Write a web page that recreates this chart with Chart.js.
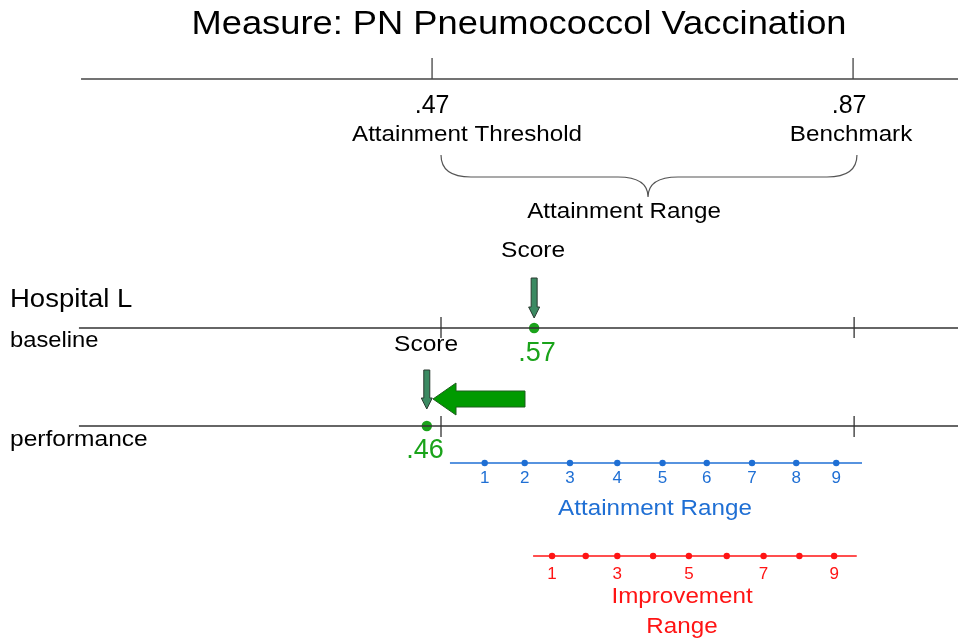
<!DOCTYPE html>
<html>
<head>
<meta charset="utf-8">
<title>Measure: PN Pneumococcol Vaccination</title>
<script src="https://cdn.jsdelivr.net/npm/chart.js@4.4.1/dist/chart.umd.min.js"></script>
<style>
  html, body { margin: 0; padding: 0; background: #fff; }
  #wrap { width: 958px; height: 639px; }
</style>
</head>
<body>
<div id="wrap"><canvas id="chart"></canvas></div>
<script>
// Score values (x axis is the measure score)
const thresholdScore = 0.47;
const benchmarkScore = 0.87;
const baselineScore = 0.567;      // shown as .57
const performanceScore = 0.465;   // shown as .46
const lowerTicks = [0.4785, 0.871];

// Attainment range points 1..9
const attainmentLabels = ['1', '2', '3', '4', '5', '6', '7', '8', '9'];
const attainmentPoints = [0.520, 0.558, 0.601, 0.646, 0.689, 0.731, 0.774, 0.816, 0.854];
const attainmentExtent = [0.487, 0.8785];

// Improvement range points 1..9 (only odd ones labelled)
const improvementLabels = ['1', '', '3', '', '5', '', '7', '', '9'];
const improvementPoints = [0.584, 0.616, 0.646, 0.680, 0.714, 0.750, 0.785, 0.819, 0.852];
const improvementExtent = [0.566, 0.8735];

// Row layout (y in pixels from top) and axis window
const XMIN = 0.0595, XMAX = 0.9697;
const ROW = { top: 79, baseline: 328, performance: 426, attain: 463, improve: 556 };
const LINE_START = 0.1365;

const FONT = '"Liberation Sans", Arial, sans-serif';
const BLUE = '#1f6fd4';
const RED = '#ff1414';
const GREEN = '#1aa31a';
const STRETCH = 1.1;   // the slide text is a little wide

function seg(x0, x1, y) { return [{ x: x0, y: y }, { x: x1, y: y }]; }
function ticks(xs, y0, y1) {
  const out = [];
  xs.forEach(x => { out.push({ x: x, y: y0 }, { x: x, y: y1 }, { x: null, y: null }); });
  return out;
}
function lineSet(data, color, width) {
  return { data: data, showLine: true, borderColor: color, borderWidth: width,
           pointRadius: 0, spanGaps: false, clip: false };
}

const datasets = [
  lineSet(seg(LINE_START, XMAX, ROW.top), '#444', 1.3),
  lineSet(ticks([thresholdScore, benchmarkScore], ROW.top - 21, ROW.top), '#444', 1.3),
  lineSet(seg(LINE_START - 0.002, XMAX, ROW.baseline), '#333', 1.3),
  lineSet(ticks(lowerTicks, ROW.baseline - 11, ROW.baseline + 10), '#333', 1.3),
  lineSet(seg(LINE_START - 0.002, XMAX, ROW.performance), '#333', 1.3),
  lineSet(ticks(lowerTicks, ROW.performance - 10, ROW.performance + 11), '#333', 1.3),
  lineSet(seg(attainmentExtent[0], attainmentExtent[1], ROW.attain), BLUE, 1.6),
  lineSet(seg(improvementExtent[0], improvementExtent[1], ROW.improve), RED, 1.6),
  { data: attainmentPoints.map(x => ({ x: x, y: ROW.attain })), pointRadius: 3.2,
    pointBackgroundColor: BLUE, pointBorderWidth: 0, showLine: false, clip: false },
  { data: improvementPoints.map(x => ({ x: x, y: ROW.improve })), pointRadius: 3.2,
    pointBackgroundColor: RED, pointBorderWidth: 0, showLine: false, clip: false },
  { data: [{ x: baselineScore, y: ROW.baseline }, { x: performanceScore, y: ROW.performance }],
    pointRadius: 5.2, pointBackgroundColor: GREEN, pointBorderWidth: 0, showLine: false, clip: false }
];

// text labels: [text, x score, y baseline, size, color, align, horizontal stretch]
const texts = [
  ['Measure: PN Pneumococcol Vaccination', 0.5526, 34, 33, '#000', 'center', STRETCH],
  ['.47', 0.470, 113, 25, '#000', 'center', 1],
  ['Attainment Threshold', 0.5032, 141, 22, '#000', 'center', STRETCH],
  ['.87', 0.8662, 113, 25, '#000', 'center', 1],
  ['Benchmark', 0.8681, 141, 22, '#000', 'center', STRETCH],
  ['Attainment Range', 0.6524, 218, 22, '#000', 'center', STRETCH],
  ['Score', 0.566, 257, 22.3, '#000', 'center', STRETCH],
  ['Hospital L', 0.069, 307, 25, '#000', 'left', STRETCH],
  ['baseline', 0.069, 347, 21.6, '#000', 'left', STRETCH],
  ['Score', 0.4643, 351, 22.3, '#000', 'center', STRETCH],
  ['.57', 0.5697, 361, 27, GREEN, 'center', 1],
  ['performance', 0.069, 446, 22.3, '#000', 'left', STRETCH],
  ['.46', 0.4633, 458, 27, GREEN, 'center', 1],
  ['Attainment Range', 0.6818, 515, 22, BLUE, 'center', STRETCH],
  ['Improvement', 0.7075, 603, 22, RED, 'center', STRETCH],
  ['Range', 0.7075, 633, 22, RED, 'center', STRETCH]
];

const decorations = {
  id: 'decorations',
  afterDatasetsDraw(chart) {
    const { ctx, scales: { x, y } } = chart;
    ctx.save();

    // brace under the attainment range
    const bl = x.getPixelForValue(0.4785), br = x.getPixelForValue(0.8737);
    const bm = x.getPixelForValue(0.6752);
    const y0 = y.getPixelForValue(155), y1 = y.getPixelForValue(177), y2 = y.getPixelForValue(197);
    ctx.strokeStyle = '#555';
    ctx.lineWidth = 1.2;
    ctx.beginPath();
    ctx.moveTo(bl, y0);
    ctx.quadraticCurveTo(bl, y1, bl + 30, y1);
    ctx.lineTo(bm - 30, y1);
    ctx.quadraticCurveTo(bm, y1, bm, y2);
    ctx.quadraticCurveTo(bm, y1, bm + 30, y1);
    ctx.lineTo(br - 30, y1);
    ctx.quadraticCurveTo(br, y1, br, y0);
    ctx.stroke();

    // small down arrows over the scores
    function downArrow(xv, top, bottom) {
      const cx = x.getPixelForValue(xv), t = y.getPixelForValue(top), b = y.getPixelForValue(bottom);
      const hw = 3, headW = 5.5, headH = 11;
      ctx.beginPath();
      ctx.moveTo(cx - hw, t);
      ctx.lineTo(cx + hw, t);
      ctx.lineTo(cx + hw, b - headH);
      ctx.lineTo(cx + headW, b - headH);
      ctx.lineTo(cx, b);
      ctx.lineTo(cx - headW, b - headH);
      ctx.lineTo(cx - hw, b - headH);
      ctx.closePath();
      ctx.fillStyle = '#3b8a62';
      ctx.fill();
      ctx.strokeStyle = '#2a3a30';
      ctx.lineWidth = 1;
      ctx.stroke();
    }
    downArrow(baselineScore, 278, 318);
    downArrow(performanceScore, 370, 409);

    // big green arrow: baseline -> performance
    const tip = x.getPixelForValue(0.4709), tail = x.getPixelForValue(0.5583);
    const cy = y.getPixelForValue(399);
    const sh = 8, hh = 16, hl = 23;
    ctx.beginPath();
    ctx.moveTo(tip, cy);
    ctx.lineTo(tip + hl, cy - hh);
    ctx.lineTo(tip + hl, cy - sh);
    ctx.lineTo(tail, cy - sh);
    ctx.lineTo(tail, cy + sh);
    ctx.lineTo(tip + hl, cy + sh);
    ctx.lineTo(tip + hl, cy + hh);
    ctx.closePath();
    ctx.fillStyle = '#009a00';
    ctx.fill();
    ctx.strokeStyle = '#1d5e1d';
    ctx.lineWidth = 1;
    ctx.stroke();

    // text
    function txt(s, xv, yv, size, color, align, stretch) {
      ctx.save();
      ctx.font = size + 'px ' + FONT;
      ctx.fillStyle = color;
      ctx.textAlign = align;
      ctx.textBaseline = 'alphabetic';
      ctx.translate(x.getPixelForValue(xv), y.getPixelForValue(yv));
      ctx.scale(stretch || 1, 1);
      ctx.fillText(s, 0, 0);
      ctx.restore();
    }
    texts.forEach(t => txt(t[0], t[1], t[2], t[3], t[4], t[5], t[6]));
    attainmentPoints.forEach((v, i) => txt(attainmentLabels[i], v, 483, 17, BLUE, 'center', 1));
    improvementPoints.forEach((v, i) => txt(improvementLabels[i], v, 579, 17, RED, 'center', 1));

    ctx.restore();
  }
};

new Chart(document.getElementById('chart'), {
  type: 'scatter',
  data: { datasets: datasets },
  options: {
    responsive: true,
    maintainAspectRatio: false,
    animation: false,
    layout: { padding: 0, autoPadding: false },
    plugins: { legend: { display: false }, tooltip: { enabled: false } },
    scales: {
      x: { type: 'linear', min: XMIN, max: XMAX, display: false },
      y: { type: 'linear', min: 0, max: 639, reverse: true, display: false }
    }
  },
  plugins: [decorations]
});
</script>
</body>
</html>
